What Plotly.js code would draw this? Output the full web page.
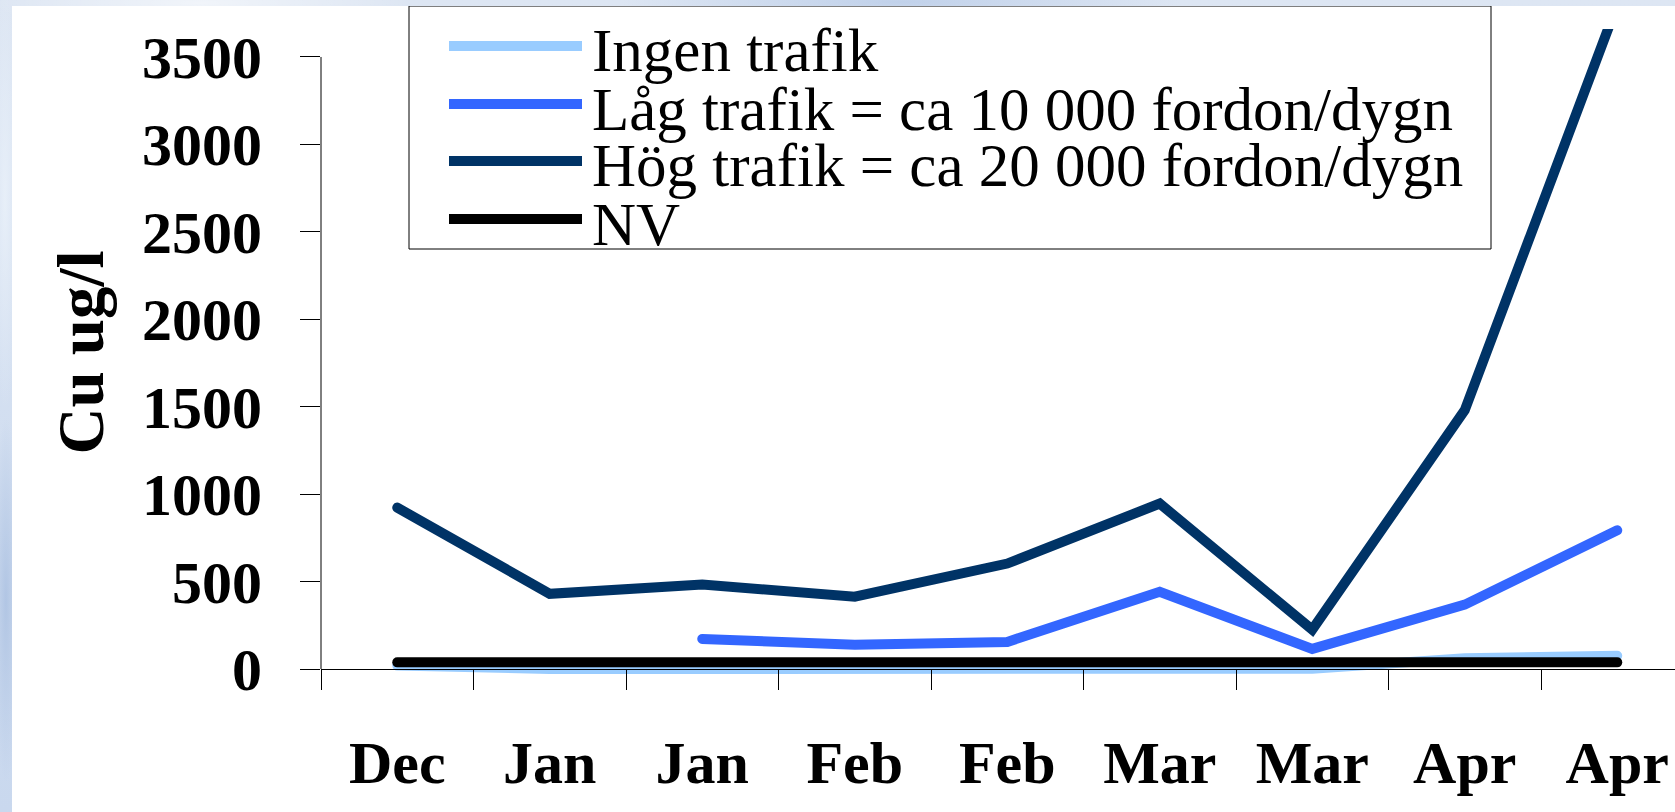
<!DOCTYPE html>
<html>
<head>
<meta charset="utf-8">
<script src="https://cdn.plot.ly/plotly-3.0.1.min.js"></script>
<style>
  html, body { margin: 0; padding: 0; width: 1675px; height: 812px; overflow: hidden; }
  body {
    background-color: #d6e1f1;
    background-image:
      radial-gradient(ellipse 300px 40px at 200px 3px, rgba(255,255,255,0.6), rgba(255,255,255,0) 70%),
      radial-gradient(ellipse 400px 30px at 900px 2px, rgba(180,200,230,0.7), rgba(180,200,230,0) 70%),
      radial-gradient(ellipse 20px 300px at 5px 200px, rgba(235,242,250,0.8), rgba(235,242,250,0) 70%),
      radial-gradient(ellipse 20px 260px at 6px 600px, rgba(170,192,225,0.8), rgba(170,192,225,0) 70%),
      linear-gradient(180deg, #dde6f3, #c9d8ee);
  }
  #chart { position: absolute; left: 12px; top: 6px; width: 1663px; height: 806px; background: #ffffff; }
  .scatterlayer .js-line { stroke-linecap: round; }
</style>
</head>
<body>
<div id="chart"></div>
<script>
// ---- data ----
const sampleIds  = ['Dec', 'Jan a', 'Jan b', 'Feb a', 'Feb b', 'Mar a', 'Mar b', 'Apr a', 'Apr b'];
const tickLabels = ['Dec', 'Jan', 'Jan', 'Feb', 'Feb', 'Mar', 'Mar', 'Apr', 'Apr'];
const seriesNames = ['Ingen trafik', 'Låg trafik = ca 10 000 fordon/dygn', 'Hög trafik = ca 20 000 fordon/dygn', 'NV'];
const ingenTrafik = [20, 0, 0, 0, 0, 0, 2, 62, 76];
const lagTrafik   = [null, null, 172, 138, 155, 442, 115, 368, 793];
const hogTrafik   = [923, 430, 483, 414, 603, 946, 225, 1480, 3800];
const nvValues    = [38, 38, 38, 38, 38, 38, 38, 38, 38];
const yTickVals   = [0, 500, 1000, 1500, 2000, 2500, 3000, 3500];
const yTitle = 'Cu ug/l';

// ---- styling ----
const colors = ['#99ccff', '#3366ff', '#003366', '#000000'];
const serif = 'Liberation Serif, Times New Roman, serif';
const allSeries = [ingenTrafik, lagTrafik, hogTrafik, nvValues];

const traces = allSeries.map((vals, i) => ({
  type: 'scatter',
  mode: 'lines',
  x: sampleIds,
  y: vals,
  name: seriesNames[i],
  line: { color: colors[i], width: 10 },
  connectgaps: false,
  showlegend: false,
  hoverinfo: 'name+y'
}));

// plot-area geometry (page pixels) used for placing the hand-drawn legend box
const PL = 321, PR = 1675, PT = 29, PB = 676;
const px = x => (x - PL) / (PR - PL);
const py = y => (PB - y) / (PB - PT);

const shapes = [
  // y axis line from 0 to 3500
  { type: 'line', xref: 'paper', yref: 'y', x0: 0, x1: 0, y0: 0, y1: 3500,
    line: { color: '#000000', width: 1 } },
  // legend box
  { type: 'rect', xref: 'paper', yref: 'paper', x0: px(409), x1: px(1491), y0: py(249), y1: py(6),
    line: { color: '#000000', width: 1 }, fillcolor: 'rgba(255,255,255,1)', layer: 'above' }
];
const legendY = [46, 104, 161, 219];
const annotations = [];
seriesNames.forEach((n, i) => {
  shapes.push({ type: 'line', xref: 'paper', yref: 'paper', x0: px(449), x1: px(582),
    y0: py(legendY[i]), y1: py(legendY[i]), line: { color: colors[i], width: 10 }, layer: 'above' });
  annotations.push({ xref: 'paper', yref: 'paper', x: px(590), y: py(legendY[i] + 5),
    xanchor: 'left', yanchor: 'middle', showarrow: false, text: n,
    font: { family: serif, size: 61, color: '#000000' } });
});

const layout = {
  width: 1663, height: 806,
  margin: { l: 309, r: 0, t: 23, b: 136 },
  paper_bgcolor: '#ffffff', plot_bgcolor: '#ffffff',
  showlegend: false,
  xaxis: {
    type: 'category',
    range: [-0.5, -0.5 + (PR - PL) / 152.5],
    tickmode: 'array', tickvals: sampleIds, ticktext: tickLabels,
    tickson: 'boundaries',
    ticks: 'outside', ticklen: 20, tickwidth: 1, tickcolor: '#000000',
    showline: true, linecolor: '#000000', linewidth: 1,
    showgrid: false, zeroline: false,
    anchor: 'free', position: 40 / 3700,
    ticklabelstandoff: 41,
    tickfont: { family: serif, size: 60, color: '#000000', weight: 'bold' }
  },
  yaxis: {
    range: [-40, 3660],
    tickmode: 'array', tickvals: yTickVals,
    ticks: 'outside', ticklen: 20, tickwidth: 1, tickcolor: '#000000',
    showline: false, showgrid: false, zeroline: false,
    ticklabelstandoff: 26,
    tickfont: { family: serif, size: 60, color: '#000000', weight: 'bold' },
    title: { text: yTitle, standoff: 17, font: { family: serif, size: 65, color: '#000000', weight: 'bold' } }
  },
  shapes: shapes,
  annotations: annotations
};

Plotly.newPlot('chart', traces, layout, { displayModeBar: false, staticPlot: true });
</script>
</body>
</html>
